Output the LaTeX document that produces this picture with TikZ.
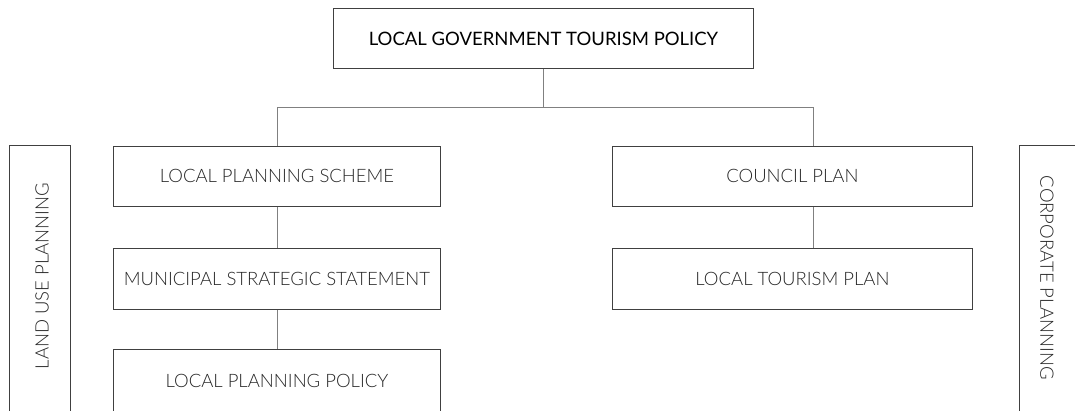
\documentclass[tikz,border=0pt]{standalone}
\usepackage{fontspec}
\setmainfont{Lato}
\newfontfamily\lightfont{Lato Light}
\begin{document}
\begin{tikzpicture}[x=1pt,y=-1pt,
  box/.style={draw=black!75,line width=0.9pt,minimum width=#1,minimum height=60pt,inner sep=0pt,anchor=north west,text=black!85,font=\lightfont\fontsize{18.5}{22}\selectfont},
  box/.default=327pt,
  conn/.style={draw=black!50,line width=0.9pt},
  side/.style={draw=black!75,line width=0.9pt},
  sidetext/.style={text=black!85,font=\lightfont\fontsize{18.5}{22}\selectfont}]
\useasboundingbox (0,0) rectangle (1075,410);
\clip (0,0) rectangle (1075,410);
\fill[white] (0,0) rectangle (1075,410);
\node[box=420pt,font=\fontsize{18.5}{22}\selectfont,text=black] (top) at (333,8) {LOCAL GOVERNMENT TOURISM POLICY};
\node[box=327pt] (lps) at (113,146) {LOCAL PLANNING SCHEME};
\node[box=327pt,minimum height=61pt] (mss) at (113,248) {MUNICIPAL STRATEGIC STATEMENT};
\node[box=327pt,minimum height=80pt,text depth=18pt] (lpp) at (113,349) {LOCAL PLANNING POLICY};
\node[box=360pt] (cp) at (612,146) {COUNCIL PLAN};
\node[box=360pt,minimum height=61pt] (ltp) at (612,248) {LOCAL TOURISM PLAN};
\coordinate (j) at ([yshift=-39pt]top.south);
\coordinate (cpt) at ([xshift=21pt]cp.north);
\coordinate (cpb) at ([xshift=21pt]cp.south);
\coordinate (ltpt) at ([xshift=21pt]ltp.north);
\draw[conn] (top.south) -- (j);
\draw[conn] (lps.north) |- (j) -| (cpt);
\draw[conn] (lps.south) -- (mss.north);
\draw[conn] (mss.south) -- (lpp.north);
\draw[conn] (cpb) -- (ltpt);
\draw[side] (9,430) -- (9,145) -- (70,145) -- (70,430);
\node[rotate=90,sidetext] (lup) at (42,276) {LAND USE PLANNING};
\draw[side] (1019,430) -- (1019,145) -- (1090,145);
\node[rotate=-90,sidetext] (cpl) at (1047,278) {CORPORATE PLANNING};
\end{tikzpicture}
\end{document}
